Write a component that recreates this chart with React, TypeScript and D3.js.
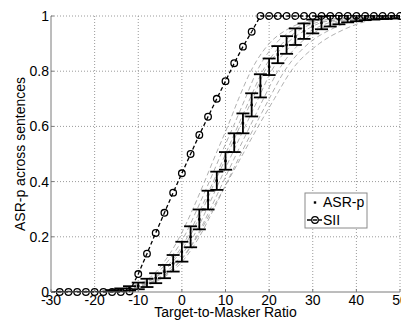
import React, { useEffect, useRef } from 'react';
import * as d3 from 'd3';

// SNR grid (dB) shared by both series
const snr = d3.range(-30, 51, 2);

// ASR-p mean and half error bar, per SNR
const asrMean = [
  0, 0, 0, 0, 0, 0, 0, 0.004, 0.008, 0.013, 0.022, 0.033, 0.05, 0.074, 0.104,
  0.146, 0.2, 0.263, 0.333, 0.403, 0.475, 0.541, 0.611, 0.678, 0.747, 0.816,
  0.86, 0.895, 0.925, 0.945, 0.962, 0.975, 0.982, 0.987, 0.991, 0.993, 0.995,
  0.996, 0.997, 0.998, 0.998,
];
const asrErr = [
  0, 0, 0, 0, 0, 0, 0, 0.003, 0.005, 0.008, 0.012, 0.015, 0.018, 0.024, 0.03,
  0.036, 0.038, 0.036, 0.034, 0.033, 0.032, 0.034, 0.036, 0.042, 0.042, 0.03,
  0.031, 0.032, 0.03, 0.028, 0.025, 0.023, 0.02, 0.017, 0.014, 0.012, 0.01,
  0.009, 0.008, 0.007, 0.006,
];

// SII prediction, per SNR
const sii = [
  0, 0, 0, 0, 0, 0, 0, 0, 0, 0.002, 0.065, 0.139, 0.214, 0.287, 0.36, 0.43,
  0.5, 0.569, 0.635, 0.7, 0.764, 0.829, 0.889, 0.943, 1, 1, 1, 1, 1, 1, 1, 1,
  1, 1, 1, 1, 1, 1, 1, 1, 1,
];

// individual sentence curves: SNR where each one crosses these levels
const levels = [0, 0.02, 0.05, 0.1, 0.2, 0.3, 0.4, 0.5, 0.6, 0.7, 0.8, 0.9, 0.95, 0.98, 1];
const sentenceCurves = [
  [-20, -12, -7.5, -4.5, -0.5, 2.5, 5.2, 7.8, 10.5, 13, 15.8, 20, 24, 29, 48],
  [-20, -11.5, -7, -3.8, 0.5, 3.5, 6.3, 9, 11.8, 14.5, 17.2, 21.5, 25.5, 30, 48],
  [-20, -11, -6.5, -3, 1.3, 4.3, 7.2, 10, 12.8, 15.6, 18.5, 23, 27, 32, 50],
  [-20, -10.8, -6.2, -2.6, 1.8, 4.8, 7.6, 10.5, 13.3, 16.2, 19, 24, 28.5, 33, 50],
  [-20, -10, -5.5, -1.8, 2.6, 5.7, 8.6, 11.5, 14.5, 17.5, 20.5, 25.5, 30, 35, 50],
  [-20, -9.5, -5, -1.2, 3.3, 6.5, 9.5, 12.5, 15.6, 18.7, 22, 27, 31.5, 36.5, 50],
  [-20, -9, -4.5, -0.5, 4, 7.3, 10.4, 13.5, 16.7, 20, 23.5, 29, 34, 39, 50],
  [-20, -10, -5, -1, 3.5, 7, 10.5, 14, 17.5, 21.2, 25, 31.5, 37, 42, 50],
];

const xTicks = [-30, -20, -10, 0, 10, 20, 30, 40, 50];
const yTicks = [0, 0.2, 0.4, 0.6, 0.8, 1];

const FONT = '"Liberation Sans", Arial, Helvetica, sans-serif';

export default function App() {
  const ref = useRef<SVGSVGElement | null>(null);

  useEffect(() => {
    if (!ref.current) return;
    const width = 401;
    const height = 322;
    const margin = { top: 16, right: 1, bottom: 30, left: 51 };
    const innerW = width - margin.left - margin.right;
    const innerH = height - margin.top - margin.bottom;

    const svg = d3.select(ref.current);
    svg.selectAll('*').remove();
    svg.attr('width', width).attr('height', height).style('background', '#fff');

    svg.append('defs').append('clipPath').attr('id', 'plot-clip')
      .append('rect').attr('width', innerW).attr('height', innerH + 1).attr('y', -1);

    const g = svg.append('g').attr('transform', `translate(${margin.left},${margin.top})`);

    const x = d3.scaleLinear().domain([-30, 50]).range([0, innerW]);
    const y = d3.scaleLinear().domain([0, 1]).range([innerH, 0]);

    // dotted grid
    g.selectAll('.gx').data(xTicks.slice(1)).enter().append('line')
      .attr('x1', d => x(d)).attr('x2', d => x(d)).attr('y1', 0).attr('y2', innerH)
      .attr('stroke', '#9a9a9a').attr('stroke-width', 1).attr('stroke-dasharray', '1,2');
    g.selectAll('.gy').data(yTicks.slice(1)).enter().append('line')
      .attr('x1', 0).attr('x2', innerW).attr('y1', d => y(d)).attr('y2', d => y(d))
      .attr('stroke', '#9a9a9a').attr('stroke-width', 1).attr('stroke-dasharray', '1,2');

    const plot = g.append('g').attr('clip-path', 'url(#plot-clip)');

    // sentence curves
    const curveLine = d3.line<number>()
      .x(d => x(d))
      .y((_, i) => y(levels[i]))
      .curve(d3.curveMonotoneX);
    plot.selectAll('.sent').data(sentenceCurves).enter().append('path')
      .attr('d', d => curveLine(d))
      .attr('fill', 'none')
      .attr('stroke', '#9c9c9c')
      .attr('stroke-width', 0.8)
      .attr('stroke-dasharray', '5,3');

    // ASR-p error bars
    const cap = 6.5;
    const bars = plot.selectAll('.eb').data(snr).enter().append('g');
    bars.append('line')
      .attr('x1', d => x(d)).attr('x2', d => x(d))
      .attr('y1', (_, i) => y(asrMean[i] - asrErr[i]))
      .attr('y2', (_, i) => y(asrMean[i] + asrErr[i]))
      .attr('stroke', '#000').attr('stroke-width', 1.8);
    [-1, 1].forEach(s => {
      bars.append('line')
        .attr('x1', d => x(d) - cap).attr('x2', d => x(d) + cap)
        .attr('y1', (_, i) => y(asrMean[i] + s * asrErr[i]))
        .attr('y2', (_, i) => y(asrMean[i] + s * asrErr[i]))
        .attr('stroke', '#000').attr('stroke-width', 1.8);
    });
    bars.append('rect')
      .attr('x', d => x(d) - 1.2).attr('y', (_, i) => y(asrMean[i]) - 1.2)
      .attr('width', 2.4).attr('height', 2.4).attr('fill', '#000');

    // SII
    const siiLine = d3.line<number>().x(d => x(d)).y((_, i) => y(sii[i]));
    g.append('path')
      .attr('d', siiLine(snr))
      .attr('fill', 'none').attr('stroke', '#000').attr('stroke-width', 1.3)
      .attr('stroke-dasharray', '4,2.5');
    g.selectAll('.sii').data(snr.slice(1)).enter().append('circle')
      .attr('cx', d => x(d)).attr('cy', (_, i) => y(sii[i + 1]))
      .attr('r', 3.3).attr('fill', 'none').attr('stroke', '#000').attr('stroke-width', 1.3);

    // axes
    g.append('line').attr('x1', 0).attr('x2', innerW).attr('y1', innerH).attr('y2', innerH)
      .attr('stroke', '#7a7a7a').attr('stroke-width', 1);
    g.append('line').attr('x1', 0).attr('x2', 0).attr('y1', 0).attr('y2', innerH)
      .attr('stroke', '#7a7a7a').attr('stroke-width', 1);
    g.selectAll('.tx').data(xTicks).enter().append('line')
      .attr('x1', d => x(d)).attr('x2', d => x(d)).attr('y1', innerH).attr('y2', innerH - 3)
      .attr('stroke', '#7a7a7a');
    g.selectAll('.ty').data(yTicks).enter().append('line')
      .attr('x1', 0).attr('x2', 3).attr('y1', d => y(d)).attr('y2', d => y(d))
      .attr('stroke', '#7a7a7a');

    g.selectAll('.lx').data(xTicks).enter().append('text')
      .attr('x', d => x(d)).attr('y', innerH + 13)
      .attr('text-anchor', 'middle')
      .style('font', `14px ${FONT}`).attr('fill', '#000')
      .text(d => String(d));
    g.selectAll('.ly').data(yTicks).enter().append('text')
      .attr('x', -2).attr('y', d => y(d) + 5)
      .attr('text-anchor', 'end')
      .style('font', `14px ${FONT}`).attr('fill', '#000')
      .text(d => String(d));

    svg.append('text')
      .attr('x', margin.left + innerW / 2).attr('y', 317)
      .attr('text-anchor', 'middle')
      .style('font', `14px ${FONT}`)
      .text('Target-to-Masker Ratio');
    svg.append('text')
      .attr('transform', `translate(25,${margin.top + innerH / 2}) rotate(-90)`)
      .attr('text-anchor', 'middle')
      .style('font', `14px ${FONT}`)
      .text('ASR-p across sentences');

    // legend
    const lg = svg.append('g').attr('transform', 'translate(305,193)');
    lg.append('rect').attr('width', 62).attr('height', 35)
      .attr('fill', '#fff').attr('stroke', '#8a8a8a').attr('stroke-width', 1);
    lg.append('rect').attr('x', 8.8).attr('y', 8.3).attr('width', 2.4).attr('height', 2.4).attr('fill', '#000');
    lg.append('text').attr('x', 18).attr('y', 14).style('font', `14px ${FONT}`).text('ASR-p');
    lg.append('line').attr('x1', 2).attr('x2', 17).attr('y1', 27).attr('y2', 27)
      .attr('stroke', '#000').attr('stroke-width', 1.3).attr('stroke-dasharray', '4,2');
    lg.append('circle').attr('cx', 10).attr('cy', 27).attr('r', 3.3)
      .attr('fill', 'none').attr('stroke', '#000').attr('stroke-width', 1.3);
    lg.append('text').attr('x', 18).attr('y', 32).style('font', `14px ${FONT}`).text('SII');
  }, []);

  return (
    <div style={{ position: 'fixed', left: 0, top: 0, width: 401, height: 322, background: '#fff' }}>
      <svg ref={ref} width={401} height={322} style={{ display: 'block' }}></svg>
    </div>
  );
}
